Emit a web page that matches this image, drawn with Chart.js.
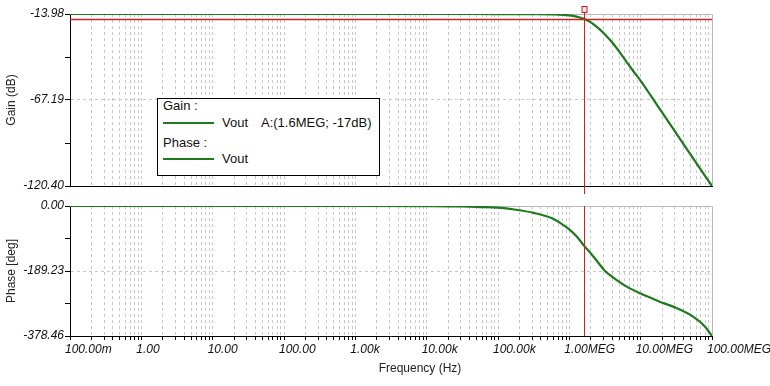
<!DOCTYPE html>
<html>
<head>
<meta charset="utf-8">
<script src="https://cdn.jsdelivr.net/npm/chart.js@4.4.0/dist/chart.umd.min.js"></script>
<style>
  body { margin: 0; background: #fff; font-family: "Liberation Sans", Arial, sans-serif; }
  #wrap { position: relative; width: 770px; height: 386px; overflow: hidden; }
  canvas { position: absolute; left: 0; }
  #gainChart { top: 0; }
  #phaseChart { top: 196px; }
  #legend {
    position: absolute; left: 157px; top: 98px; width: 223px; height: 78px;
    box-sizing: border-box; border: 1px solid #000; background: #fff;
    font-size: 13px; color: #111;
  }
  #legend span { position: absolute; line-height: 16px; white-space: nowrap; }
  #legend i { position: absolute; left: 5px; width: 51px; height: 2px; background: #1d7a1d; }
  #xTitle {
    position: absolute; left: 340px; top: 360px; width: 160px; text-align: center;
    font-size: 12px; line-height: 16px; color: #222;
  }
</style>
</head>
<body>
<div id="wrap">
  <canvas id="gainChart" width="770" height="196"></canvas>
  <canvas id="phaseChart" width="770" height="190"></canvas>
  <div id="legend">
    <span style="left:5px;top:-1px">Gain :</span>
    <i style="top:23px"></i>
    <span style="left:64px;top:16px">Vout</span>
    <span style="left:103px;top:16px">A:(1.6MEG; -17dB)</span>
    <span style="left:5px;top:36px">Phase :</span>
    <i style="top:59px"></i>
    <span style="left:64px;top:52px">Vout</span>
  </div>
  <div id="xTitle">Frequency (Hz)</div>
</div>
<script>
// x axis (log), decade ticks and their labels
const decades = [0.1, 1, 10, 100, 1e3, 1e4, 1e5, 1e6, 1e7, 1e8];
const freqLabels = ['100.00m', '1.00', '10.00', '100.00', '1.00k', '10.00k', '100.00k', '1.00MEG', '10.00MEG', '100.00MEG'];

// gain curve (Hz, dB)
const gainFreq = [0.1, 1, 10, 100, 1e3, 1e4, 1e5, 3.16e5, 6.31e5, 1e6, 1.26e6, 1.6e6, 2e6, 2.5e6, 3.16e6, 4e6, 5e6, 6.3e6, 7.9e6, 1e7, 1.78e7, 3.16e7, 5.62e7, 1e8];
const gainDb = [-13.98, -13.98, -13.98, -13.98, -13.98, -13.98, -14.0, -14.05, -14.2, -14.8, -15.6, -17.0, -19.2, -22.4, -26.6, -31.6, -37.2, -43.4, -49.4, -55.3, -71.6, -87.9, -104.2, -120.4];

// phase curve (Hz, deg)
const phaseFreq = [0.1, 1, 10, 100, 1e3, 1e4, 3.16e4, 5.62e4, 1e5, 1.78e5, 3.16e5, 5.62e5, 7.4e5, 1e6, 1.26e6, 1.6e6, 2e6, 2.5e6, 3.16e6, 4e6, 6.3e6, 1e7, 1.78e7, 3.16e7, 5.62e7, 7.9e7, 1e8];
const phaseDeg = [0, 0, 0, 0, 0, -0.5, -1.5, -3, -5, -11, -20, -35, -49, -68, -88, -115, -138, -163, -189, -206, -234, -255, -277, -297, -324, -350, -378.46];

// y ticks (labelled ones at ends and middle)
const gainTicks = [-120.40, -93.795, -67.19, -40.585, -13.98];
const gainTickLabels = ['-120.40', '', '-67.19', '', '-13.98'];
const phaseTicks = [-378.46, -283.845, -189.23, -94.615, 0];
const phaseTickLabels = ['-378.46', '', '-189.23', '', '0.00'];

// cursor A
const cursorFreq = 1.6e6;
const cursorGain = -17;

const GREEN = '#1d7a1d';
const RED = '#d02020';
const GRID = '#c8c8c8';

Chart.defaults.font.family = '"Liberation Sans", Arial, sans-serif';
Chart.defaults.font.size = 12;

// every 1..9 multiple in each decade
const xGridTicks = [];
decades.slice(0, -1).forEach(d => { for (let m = 1; m <= 9; m++) xGridTicks.push(d * m); });
xGridTicks.push(decades[decades.length - 1]);

function freqLabel(v) {
  const k = decades.findIndex(d => Math.abs(v / d - 1) < 1e-6);
  return k >= 0 ? freqLabels[k] : '';
}

const frame = {
  id: 'frame',
  beforeDatasetsDraw(chart) {
    const { ctx, chartArea: a } = chart;
    ctx.save();
    ctx.strokeStyle = '#b8b8b8';
    ctx.lineWidth = 1;
    ctx.beginPath();
    ctx.moveTo(a.left, a.top + 0.5);
    ctx.lineTo(a.right + 0.5, a.top + 0.5);
    ctx.lineTo(a.right + 0.5, a.bottom);
    ctx.stroke();
    ctx.restore();
  }
};

const cursor = {
  id: 'cursor',
  afterDatasetsDraw(chart, args, opts) {
    const { ctx, chartArea: a } = chart;
    const x = Math.round(chart.scales.x.getPixelForValue(cursorFreq)) + 0.5;
    ctx.save();
    ctx.setLineDash([]);
    ctx.strokeStyle = RED;
    ctx.fillStyle = RED;
    ctx.lineWidth = 1;
    if (opts.hLine) {
      const y = Math.round(chart.scales.y.getPixelForValue(cursorGain));
      ctx.fillRect(a.left, y - 0.25, a.right - a.left, 1.5);
    }
    ctx.beginPath();
    ctx.moveTo(x, opts.top);
    ctx.lineTo(x, opts.bottom === undefined ? a.bottom : opts.bottom);
    ctx.stroke();
    if (opts.marker) {
      ctx.fillStyle = '#fbe3e3';
      ctx.fillRect(x - 2.5, 6.5, 5, 6);
      ctx.strokeRect(x - 2.5, 6.5, 5, 6);
    }
    ctx.restore();
  }
};

function yScale(min, max, tickVals, tickLabels, title) {
  return {
    min, max,
    afterBuildTicks: s => { s.ticks = tickVals.map(v => ({ value: v })); },
    afterFit: s => { s.width = 70; s.paddingTop = 0; s.paddingBottom = 0; },
    ticks: {
      autoSkip: false,
      padding: 1,
      color: '#111',
      font: { style: 'italic', size: 12 },
      callback: (v, i) => tickLabels[i]
    },
    grid: {
      color: c => c.index === 2 ? GRID : 'rgba(0,0,0,0)',
      tickColor: '#000',
      tickLength: 5
    },
    border: { color: '#000', dash: [3, 3] },
    title: { display: true, text: title, color: '#222', font: { size: 12 }, padding: { top: 4.5, bottom: 0 } }
  };
}

function xScale(showLabels) {
  return {
    type: 'logarithmic',
    min: decades[0],
    max: decades[decades.length - 1],
    afterBuildTicks: s => { s.ticks = xGridTicks.map(v => ({ value: v })); },
    afterFit: s => { s.height = showLabels ? 50 : 10; s.paddingLeft = 0; s.paddingRight = 0; },
    ticks: {
      display: showLabels,
      autoSkip: false,
      maxRotation: 0,
      align: 'start',
      labelOffset: -5,
      padding: 2,
      color: '#111',
      font: { style: 'italic', size: 12 },
      callback: v => freqLabel(v)
    },
    grid: {
      color: c => (c.index === 0 || c.index === xGridTicks.length - 1) ? 'rgba(0,0,0,0)' : GRID,
      drawTicks: showLabels,
      tickColor: '#000',
      tickLength: 4
    },
    border: { color: '#000', dash: [3, 3] }
  };
}

function lineSet(xs, ys) {
  return {
    data: xs.map((f, i) => ({ x: f, y: ys[i] })),
    borderColor: GREEN,
    borderWidth: 2.2,
    pointRadius: 0,
    cubicInterpolationMode: 'monotone',
    fill: false
  };
}

new Chart(document.getElementById('gainChart'), {
  type: 'line',
  data: { datasets: [lineSet(gainFreq, gainDb)] },
  options: {
    responsive: false,
    animation: false,
    devicePixelRatio: 1,
    layout: { padding: { top: 14, right: 58, left: 0, bottom: 0 } },
    scales: {
      x: xScale(false),
      y: yScale(gainTicks[0], gainTicks[4], gainTicks, gainTickLabels, 'Gain (dB)')
    },
    plugins: {
      legend: { display: false },
      tooltip: { enabled: false },
      cursor: { top: 8, bottom: 194, hLine: true, marker: true }
    }
  },
  plugins: [frame, cursor]
});

new Chart(document.getElementById('phaseChart'), {
  type: 'line',
  data: { datasets: [lineSet(phaseFreq, phaseDeg)] },
  options: {
    responsive: false,
    animation: false,
    devicePixelRatio: 1,
    layout: { padding: { top: 10, right: 58, left: 0, bottom: 0 } },
    scales: {
      x: xScale(true),
      y: yScale(phaseTicks[0], phaseTicks[4], phaseTicks, phaseTickLabels, 'Phase [deg]')
    },
    plugins: {
      legend: { display: false },
      tooltip: { enabled: false },
      cursor: { top: 10, hLine: false, marker: false }
    }
  },
  plugins: [frame, cursor]
});
</script>
</body>
</html>
